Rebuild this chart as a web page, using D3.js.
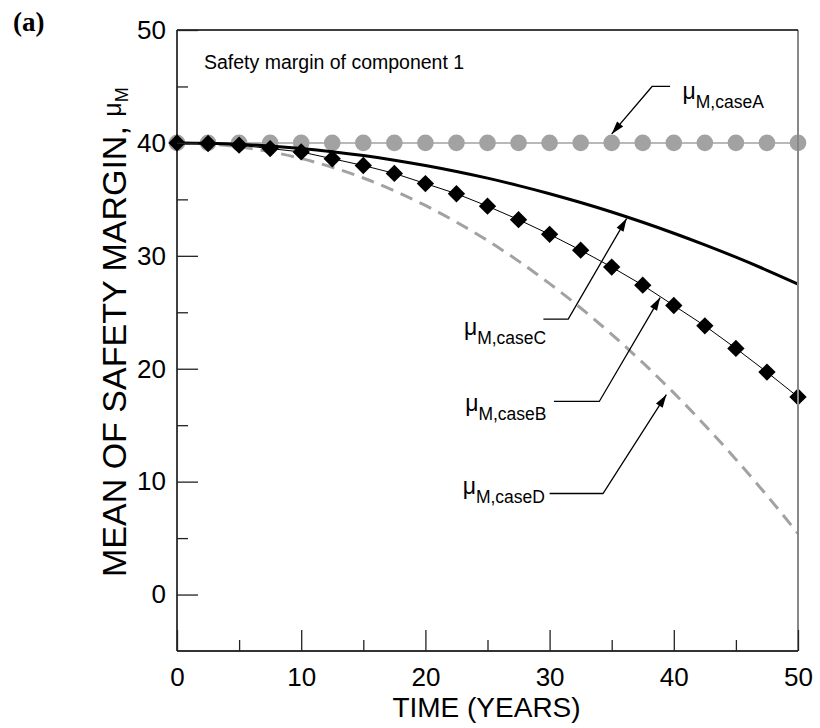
<!DOCTYPE html>
<html><head><meta charset="utf-8">
<script src="https://cdn.jsdelivr.net/npm/d3@7"></script>
<style>body{margin:0;background:#fff}</style>
</head><body><svg id="c" width="820" height="728" font-family="Liberation Sans, Arial, sans-serif"></svg>
<script>
// ---- data ----
const years = [0,2.5,5,7.5,10,12.5,15,17.5,20,22.5,25,27.5,30,32.5,35,37.5,40,42.5,45,47.5,50];
const caseA = [40,40,40,40,40,40,40,40,40,40,40,40,40,40,40,40,40,40,40,40,40];
const caseB = [40,39.95,39.8,39.5,39.2,38.6,38.0,37.3,36.4,35.5,34.4,33.2,31.9,30.5,29.0,27.4,25.6,23.8,21.8,19.7,17.5];
const caseC = [40,39.97,39.88,39.72,39.5,39.22,38.88,38.47,38.0,37.47,36.88,36.22,35.5,34.72,33.88,32.97,32.0,30.97,29.88,28.72,27.5];
const caseD = [40,39.91,39.65,39.22,38.62,37.84,36.89,35.76,34.46,32.99,31.35,29.53,27.54,25.38,23.05,20.54,17.86,15.0,11.97,8.77,5.4];
const xTicks = [0,10,20,30,40,50];
const xMinor = [5,15,25,35,45];
const yTicks = [0,10,20,30,40,50];
const yMinor = [5,15,25,35,45];
const annotNames = ["M,caseA","M,caseB","M,caseC","M,caseD"];
const annotTip   = [[35,40.8],[38.9,26.3],[36.2,33.3],[39.4,17.7]];
const annotElbow = [[38.25,45.0],[34.0,17.1],[31.5,24.4],[34.3,8.95]];
const annotStub  = [[39.7,45.0],[30.35,17.1],[29.5,24.4],[30.0,8.95]];
const annotText  = [[40.7,43.85],[23.2,16.3],[23.1,23.0],[23.0,8.9]];

// ---- chart ----
const svg = d3.select("#c");
const x = d3.scaleLinear().domain([0,50]).range([177,798]);
const y = d3.scaleLinear().domain([-5,50]).range([651,30]);
const [X0,X1] = x.range(), [Y0,Y1] = y.range();
const grey = "#a2a2a2";

const pts = (arr)=>years.map((t,i)=>[t,arr[i]]);
const line = d3.line().x(d=>x(d[0])).y(d=>y(d[1]));
const smooth = d3.line().x(d=>x(d[0])).y(d=>y(d[1])).curve(d3.curveMonotoneX);

// series A
svg.append("path").attr("d",line(pts(caseA))).attr("fill","none").attr("stroke",grey).attr("stroke-width",1.5);
svg.selectAll("circle.a").data(pts(caseA)).join("circle").attr("class","a")
  .attr("cx",d=>x(d[0])).attr("cy",d=>y(d[1])).attr("r",8.3).attr("fill",grey);
// series D (dashed grey)
svg.append("path").attr("d",smooth(pts(caseD))).attr("fill","none").attr("stroke",grey)
  .attr("stroke-width",3).attr("stroke-dasharray","13,8");
// series C (thick black)
svg.append("path").attr("d",smooth(pts(caseC))).attr("fill","none").attr("stroke","#000").attr("stroke-width",3);
// series B
svg.append("path").attr("d",line(pts(caseB))).attr("fill","none").attr("stroke","#000").attr("stroke-width",1);
svg.selectAll("path.b").data(pts(caseB)).join("path").attr("class","b")
  .attr("d",d3.symbol(d3.symbolSquare,150)())
  .attr("transform",d=>`translate(${x(d[0])},${y(d[1])}) rotate(45)`).attr("fill","#000");

// frame
svg.append("line").attr("x1",X1).attr("x2",X1).attr("y1",Y1).attr("y2",Y0).attr("stroke","#888").attr("stroke-width",2);
svg.append("line").attr("x1",X0).attr("x2",X1).attr("y1",Y1).attr("y2",Y1).attr("stroke","#000").attr("stroke-width",1.5);
svg.append("line").attr("x1",X0).attr("x2",X1).attr("y1",Y0).attr("y2",Y0).attr("stroke","#333").attr("stroke-width",2);
svg.append("line").attr("x1",X0).attr("x2",X0).attr("y1",Y1).attr("y2",Y0).attr("stroke","#000").attr("stroke-width",1.5);

// axes
function styleAxis(g,fs){
  g.select(".domain").remove();
  g.selectAll(".tick line").attr("stroke","#222").attr("stroke-width",1.3);
  g.selectAll(".tick text").attr("font-size",fs).attr("fill","#000").attr("font-family","Liberation Sans, Arial, sans-serif");
}
svg.append("g").attr("transform",`translate(${X0},0)`)
  .call(d3.axisLeft(y).tickValues(yTicks).tickSizeInner(-21).tickSizeOuter(0).tickPadding(11).tickFormat(d3.format("d")))
  .call(g=>styleAxis(g,26));
svg.append("g").attr("transform",`translate(${X0},0)`)
  .call(d3.axisLeft(y).tickValues(yMinor).tickSizeInner(-11).tickSizeOuter(0).tickFormat(""))
  .call(g=>styleAxis(g,26));
svg.append("g").attr("transform",`translate(0,${Y0})`)
  .call(d3.axisBottom(x).tickValues(xTicks).tickSizeInner(-21).tickSizeOuter(0).tickPadding(17).tickFormat(d3.format("d")))
  .call(g=>styleAxis(g,26));
svg.append("g").attr("transform",`translate(0,${Y0})`)
  .call(d3.axisBottom(x).tickValues(xMinor).tickSizeInner(-11).tickSizeOuter(0).tickFormat(""))
  .call(g=>styleAxis(g,26));

// axis titles
svg.append("text").attr("x",(X0+X1)/2 - 1).attr("y",717).attr("text-anchor","middle")
  .attr("font-size",28).text("TIME (YEARS)");
const yt = svg.append("text").attr("transform","translate(126,577) rotate(-90)").attr("font-size",34);
yt.append("tspan").text("MEAN OF SAFETY MARGIN,   ");
yt.append("tspan").attr("font-size",25).attr("dy",-5).text("μ");
yt.append("tspan").attr("font-size",18).attr("dy",7).text("M");

// panel label & title
svg.append("text").attr("x",13).attr("y",31)
  .style("font-family","'Liberation Serif', 'Times New Roman', serif")
  .attr("font-weight","bold").attr("font-size",27).text("(a)");
svg.append("text").attr("x",204).attr("y",69).attr("font-size",19.5).text("Safety margin of component 1");

// annotations
annotNames.forEach((nm,i)=>{
  const tip=[x(annotTip[i][0]),y(annotTip[i][1])];
  const el=[x(annotElbow[i][0]),y(annotElbow[i][1])];
  const st=[x(annotStub[i][0]),y(annotStub[i][1])];
  svg.append("path").attr("d",`M${st[0]},${st[1]}L${el[0]},${el[1]}L${tip[0]},${tip[1]}`)
    .attr("fill","none").attr("stroke","#000").attr("stroke-width",1.3);
  const ang=Math.atan2(tip[1]-el[1],tip[0]-el[0]);
  const L=13,W=4;
  const bx=tip[0]-L*Math.cos(ang), by=tip[1]-L*Math.sin(ang);
  const px=-Math.sin(ang)*W, py=Math.cos(ang)*W;
  svg.append("path").attr("d",`M${tip[0]},${tip[1]}L${bx+px},${by+py}L${bx-px},${by-py}Z`).attr("fill","#000");
  const t=svg.append("text").attr("x",x(annotText[i][0])).attr("y",y(annotText[i][1]));
  t.append("tspan").attr("font-size",23).text("μ");
  t.append("tspan").attr("font-size",17.5).attr("dy",9).text(nm);
});
</script></body></html>
